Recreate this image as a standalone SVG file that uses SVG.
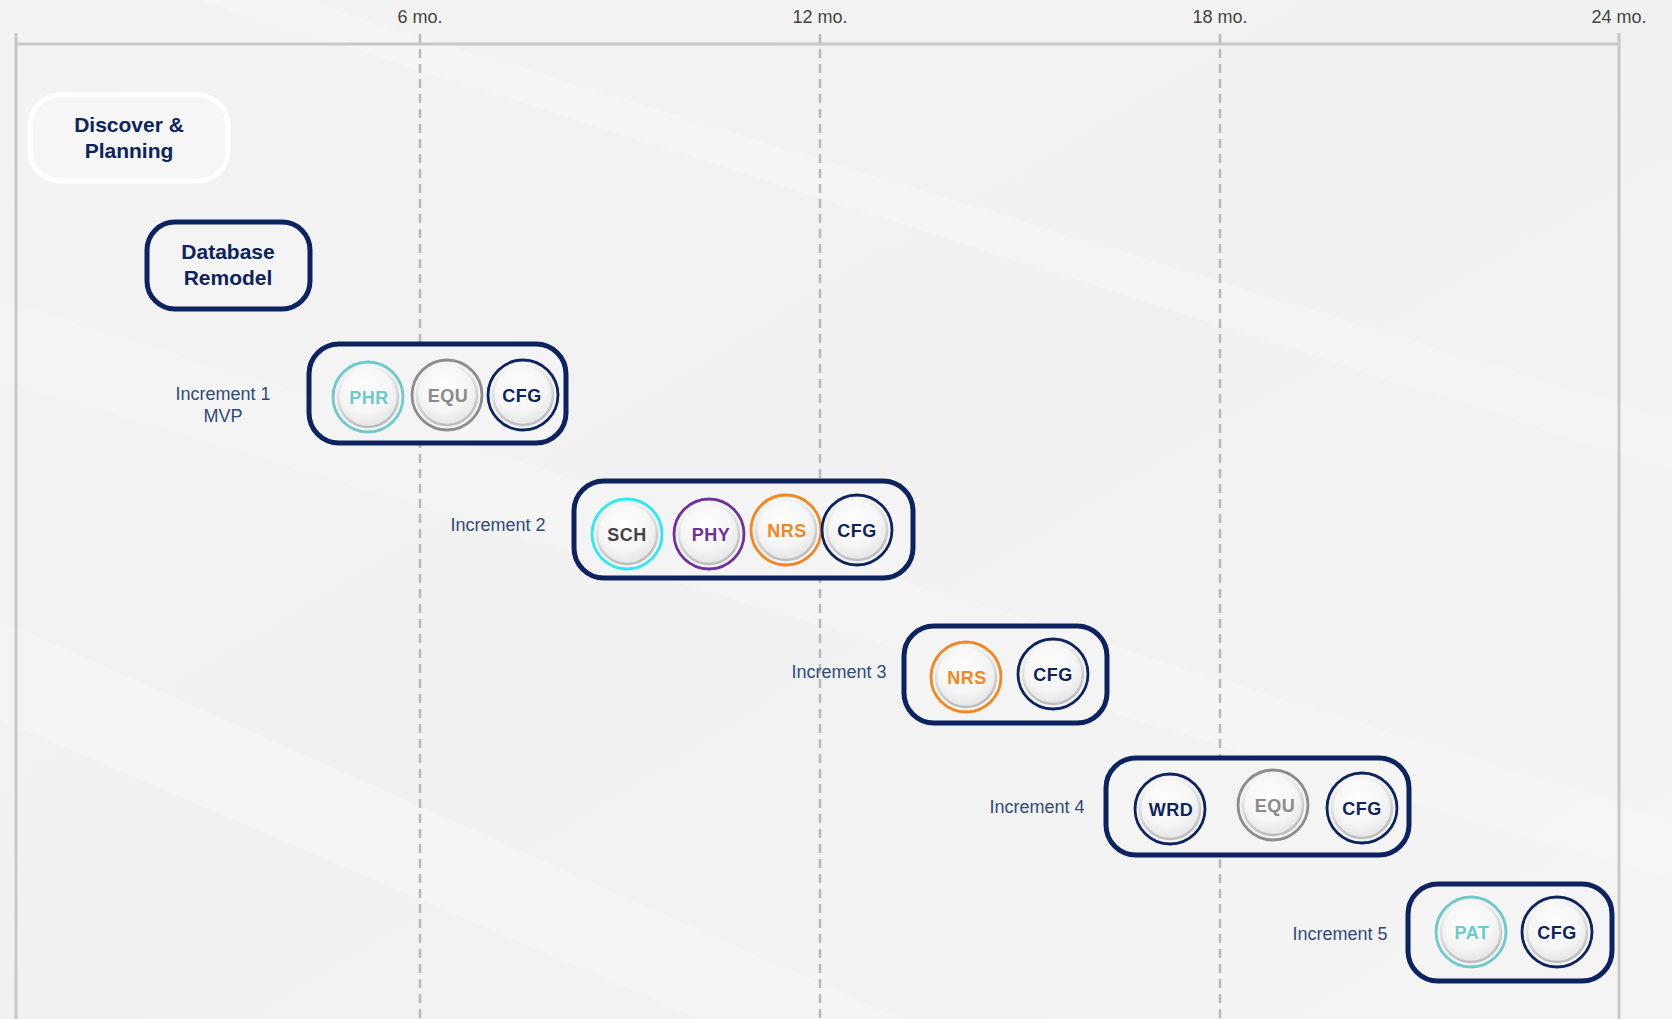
<svg xmlns="http://www.w3.org/2000/svg" width="1672" height="1019" viewBox="0 0 1672 1019">
<defs>
<linearGradient id="bg" x1="0" y1="0" x2="1" y2="1">
<stop offset="0" stop-color="#f3f3f3"/>
<stop offset="0.5" stop-color="#f1f1f1"/>
<stop offset="1" stop-color="#f4f4f4"/>
</linearGradient>
<radialGradient id="btn" cx="0.45" cy="0.35" r="0.7">
<stop offset="0" stop-color="#ffffff"/>
<stop offset="0.6" stop-color="#f5f5f5"/>
<stop offset="1" stop-color="#e2e2e2"/>
</radialGradient>
<linearGradient id="btnEdge" x1="0" y1="0" x2="0.3" y2="1">
<stop offset="0" stop-color="#ffffff"/>
<stop offset="1" stop-color="#bdbdbd"/>
</linearGradient>
<style>
.axis{stroke:#c8c8c8;stroke-width:3;fill:none}
.dash{stroke:#b9b9b9;stroke-width:2.5;stroke-dasharray:9 6;fill:none}
.tick{font-family:"Liberation Sans",Arial,sans-serif;font-size:18px;fill:#444;text-anchor:middle}
.box{fill:#f4f4f4;stroke:#0d2361;stroke-width:5}
.wbox{fill:#f6f6f6;stroke:#ffffff;stroke-width:5}
.title{font-family:"Liberation Sans",Arial,sans-serif;font-size:21px;font-weight:bold;fill:#0d2361;text-anchor:middle}
.inc{font-family:"Liberation Sans",Arial,sans-serif;font-size:18px;fill:#2f4a7c;text-anchor:middle}
.ring{fill:#f2f2f2;stroke-width:2.8}
.in{fill:url(#btn);stroke:url(#btnEdge);stroke-width:2.5}
.lbl{font-family:"Liberation Sans",Arial,sans-serif;font-size:18px;font-weight:bold;text-anchor:middle;letter-spacing:0.5px}
</style>
</defs>
<rect width="1672" height="1019" fill="url(#bg)"/>
<g opacity="0.22" fill="#ffffff">
<polygon points="0,300 1672,820 1672,880 0,380"/>
<polygon points="0,620 900,1019 700,1019 0,720"/>
<polygon points="300,0 1672,420 1672,470 200,0"/>
</g>
<g id="axis">
<line class="axis" x1="16" y1="33" x2="16" y2="1019"/>
<line class="axis" x1="16" y1="44" x2="1619" y2="44"/>
<line class="axis" x1="1619" y1="33" x2="1619" y2="1019"/>
<line class="dash" x1="420" y1="34" x2="420" y2="1019"/>
<line class="dash" x1="820" y1="34" x2="820" y2="1019"/>
<line class="dash" x1="1220" y1="34" x2="1220" y2="1019"/>
<text class="tick" x="420" y="23">6 mo.</text>
<text class="tick" x="820" y="23">12 mo.</text>
<text class="tick" x="1220" y="23">18 mo.</text>
<text class="tick" x="1619" y="23">24 mo.</text>
</g>
<g id="connectors"></g>
<g id="discover">
<rect class="wbox" x="30" y="95" width="198" height="86" rx="30"/>
<text class="title" x="129" y="132">Discover &amp;</text>
<text class="title" x="129" y="158">Planning</text>
</g>
<g id="database">
<rect class="box" x="147" y="222" width="163" height="87" rx="28"/>
<text class="title" x="228" y="259">Database</text>
<text class="title" x="228" y="285">Remodel</text>
</g>
<g id="inc1">
<text class="inc" x="223" y="400">Increment 1</text>
<text class="inc" x="223" y="422">MVP</text>
<rect class="box" x="309" y="344" width="257" height="99" rx="30"/>
<circle class="ring" cx="368" cy="397" r="35" stroke="#6ccaca"/><circle class="in" cx="368" cy="397" r="30"/><text class="lbl" x="369" y="404" fill="#6ccaca">PHR</text>
<circle class="ring" cx="447" cy="395" r="35" stroke="#8c8c8c"/><circle class="in" cx="447" cy="395" r="30"/><text class="lbl" x="448" y="402" fill="#8a8a8a">EQU</text>
<circle class="ring" cx="523" cy="395" r="35" stroke="#0d2361"/><circle class="in" cx="523" cy="395" r="30"/><text class="lbl" x="522" y="402" fill="#0d2361">CFG</text>
</g>
<g id="inc2">
<text class="inc" x="498" y="531">Increment 2</text>
<rect class="box" x="574" y="481" width="339" height="97" rx="30"/>
<circle class="ring" cx="627" cy="534" r="35" stroke="#2ee8f2"/><circle class="in" cx="627" cy="534" r="30"/><text class="lbl" x="627" y="541" fill="#444444">SCH</text>
<circle class="ring" cx="709" cy="534" r="35" stroke="#7030a0"/><circle class="in" cx="709" cy="534" r="30"/><text class="lbl" x="711" y="541" fill="#7030a0">PHY</text>
<circle class="ring" cx="786" cy="530" r="35" stroke="#f5861f"/><circle class="in" cx="786" cy="530" r="30"/><text class="lbl" x="787" y="537" fill="#f5861f">NRS</text>
<circle class="ring" cx="857" cy="530" r="35" stroke="#0d2361"/><circle class="in" cx="857" cy="530" r="30"/><text class="lbl" x="857" y="537" fill="#0d2361">CFG</text>
</g>
<g id="inc3">
<text class="inc" x="839" y="678">Increment 3</text>
<rect class="box" x="904" y="626" width="203" height="97" rx="30"/>
<circle class="ring" cx="966" cy="677" r="35" stroke="#f5861f"/><circle class="in" cx="966" cy="677" r="30"/><text class="lbl" x="967" y="684" fill="#f5861f">NRS</text>
<circle class="ring" cx="1053" cy="674" r="35" stroke="#0d2361"/><circle class="in" cx="1053" cy="674" r="30"/><text class="lbl" x="1053" y="681" fill="#0d2361">CFG</text>
</g>
<g id="inc4">
<text class="inc" x="1037" y="813">Increment 4</text>
<rect class="box" x="1106" y="758" width="303" height="97" rx="30"/>
<circle class="ring" cx="1170" cy="809" r="35" stroke="#0d2361"/><circle class="in" cx="1170" cy="809" r="30"/><text class="lbl" x="1171" y="816" fill="#0d2361">WRD</text>
<circle class="ring" cx="1273" cy="805" r="35" stroke="#8c8c8c"/><circle class="in" cx="1273" cy="805" r="30"/><text class="lbl" x="1275" y="812" fill="#8a8a8a">EQU</text>
<circle class="ring" cx="1362" cy="808" r="35" stroke="#0d2361"/><circle class="in" cx="1362" cy="808" r="30"/><text class="lbl" x="1362" y="815" fill="#0d2361">CFG</text>
</g>
<g id="inc5">
<text class="inc" x="1340" y="940">Increment 5</text>
<rect class="box" x="1408" y="884" width="204" height="97" rx="30"/>
<circle class="ring" cx="1471" cy="932" r="35" stroke="#6ccaca"/><circle class="in" cx="1471" cy="932" r="30"/><text class="lbl" x="1472" y="939" fill="#6ccaca">PAT</text>
<circle class="ring" cx="1557" cy="932" r="35" stroke="#0d2361"/><circle class="in" cx="1557" cy="932" r="30"/><text class="lbl" x="1557" y="939" fill="#0d2361">CFG</text>
</g>
</svg>
